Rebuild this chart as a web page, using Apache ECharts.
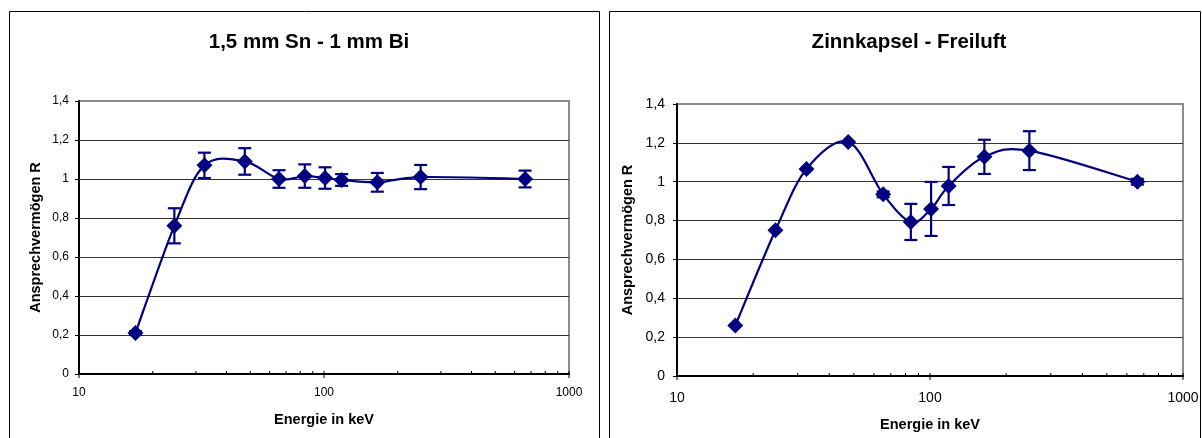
<!DOCTYPE html>
<html>
<head>
<meta charset="utf-8">
<script src="https://cdn.jsdelivr.net/npm/echarts@6/dist/echarts.min.js"></script>
<style>
html,body{margin:0;padding:0;background:#fff;}
#c{width:1202px;height:438px;}
</style>
</head>
<body>
<div id="c"></div>
<script>
// ---- data ----
const titles = ['1,5 mm Sn - 1 mm Bi', 'Zinnkapsel - Freiluft'];
const xTitle = 'Energie in keV';
const yTitle = 'Ansprechvermögen R';
const energyL = [17, 24.5, 32.5, 47.5, 65.5, 83.5, 101, 118, 165, 248, 662];
const valueL  = [0.21, 0.76, 1.07, 1.09, 1.00, 1.015, 1.005, 0.995, 0.983, 1.01, 1.00];
const errL    = [0.01, 0.09, 0.065, 0.068, 0.045, 0.06, 0.055, 0.03, 0.048, 0.062, 0.043];
const energyR = [17, 24.5, 32.5, 47.5, 65.3, 84, 101, 118.5, 164, 247, 660];
const valueR  = [0.26, 0.75, 1.065, 1.205, 0.935, 0.793, 0.86, 0.978, 1.128, 1.16, 1.0];
const errR    = [0, 0, 0, 0, 0.015, 0.093, 0.139, 0.098, 0.088, 0.1, 0.015];
const xMajor = [10, 100, 1000];
const xMinor = [20, 30, 40, 50, 60, 70, 80, 90, 200, 300, 400, 500, 600, 700, 800, 900];

const NAVY = '#000080';
const FONT = 'Liberation Sans';
const chart = echarts.init(document.getElementById('c'));

function pts(e, v){ return e.map((x,i)=>[x, v[i]]); }
function errs(e, v, d){ return e.map((x,i)=>[x, v[i]-d[i], v[i]+d[i]]); }

// smoothed curve (Catmull-Rom style Bezier, like a spreadsheet "smoothed line")
function curveSeries(idx, data){
  const n = data.length;
  return {
    type:'custom', xAxisIndex:idx, yAxisIndex:idx, z:3, clip:false, silent:true,
    data:data,
    renderItem:function(params, api){
      const i = params.dataIndex;
      if (i >= n-1) return null;
      const c = k => api.coord(data[Math.max(0, Math.min(n-1, k))]);
      const p0 = c(i-1), p1 = c(i), p2 = c(i+1), p3 = c(i+2);
      const t = 1/6;
      return {type:'bezierCurve', shape:{
        x1:p1[0], y1:p1[1], x2:p2[0], y2:p2[1],
        cpx1:p1[0]+(p2[0]-p0[0])*t, cpy1:p1[1]+(p2[1]-p0[1])*t,
        cpx2:p2[0]-(p3[0]-p1[0])*t, cpy2:p2[1]-(p3[1]-p1[1])*t
      }, style:{stroke:NAVY, fill:null, lineWidth:2.2}};
    }
  };
}
function markerSeries(idx, data){
  return {
    type:'scatter', xAxisIndex:idx, yAxisIndex:idx, z:5, data:data,
    symbol:'diamond', symbolSize:[16,16], itemStyle:{color:NAVY, opacity:1}
  };
}
function errSeries(idx, data){
  return {
    type:'custom', xAxisIndex:idx, yAxisIndex:idx, z:4, clip:false, silent:true,
    data:data,
    renderItem:function(params, api){
      const x = api.value(0);
      const lo = api.coord([x, api.value(1)]);
      const hi = api.coord([x, api.value(2)]);
      const w = 6.5;
      const st = {stroke:NAVY, lineWidth:2.2};
      return {type:'group', children:[
        {type:'line', shape:{x1:lo[0],y1:lo[1],x2:hi[0],y2:hi[1]}, style:st},
        {type:'line', shape:{x1:lo[0]-w,y1:lo[1],x2:lo[0]+w,y2:lo[1]}, style:st},
        {type:'line', shape:{x1:hi[0]-w,y1:hi[1],x2:hi[0]+w,y2:hi[1]}, style:st}
      ]};
    }
  };
}
function tickSeries(idx, vals, up, down){
  return {
    type:'custom', xAxisIndex:idx, yAxisIndex:idx, z:6, clip:false, silent:true,
    data:vals.map(v=>[v,0]),
    renderItem:function(params, api){
      const p = api.coord([api.value(0), 0]);
      return {type:'line', shape:{x1:p[0],y1:p[1]-up,x2:p[0],y2:p[1]+down},
        style:{stroke:'#000', lineWidth:1}};
    }
  };
}

const gridCol = ['#333','#333','#333','#333','#333','#333','#333','#8c8c8c'];

function xAxis(idx, fs, gap, margin){
  return {
    type:'log', logBase:10, min:10, max:1000, gridIndex:idx,
    name:xTitle, nameLocation:'middle', nameGap:gap,
    nameTextStyle:{fontFamily:FONT, fontWeight:'bold', fontSize:14.5, color:'#000'},
    axisLine:{show:true, onZero:false, lineStyle:{color:'#000', width:2}},
    axisTick:{show:false},
    minorTick:{show:false},
    axisLabel:{fontFamily:FONT, fontSize:fs, color:'#000', margin:margin,
      formatter:function(v){ return String(Math.round(v)); }},
    splitLine:{show:false}
  };
}
function yAxis(idx, fs, gap, margin){
  return {
    type:'value', min:0, max:1.4, interval:0.2, gridIndex:idx,
    name:yTitle, nameLocation:'middle', nameGap:gap, nameRotate:90,
    nameTextStyle:{fontFamily:FONT, fontWeight:'bold', fontSize:14.5, color:'#000'},
    axisLine:{show:true, lineStyle:{color:'#000', width:2}},
    axisTick:{show:true, length:4, lineStyle:{color:'#000', width:1}},
    axisLabel:{fontFamily:FONT, fontSize:fs, color:'#000', margin:margin,
      formatter:function(v){ return String(Math.round(v*10)/10).replace('.', ','); }},
    splitLine:{show:true, lineStyle:{color:gridCol, width:1}}
  };
}

chart.setOption({
  animation:false,
  backgroundColor:'#fff',
  title:[
    {text:titles[0], left:304, top:27, textAlign:'center',
      textStyle:{fontFamily:FONT, fontWeight:'bold', fontSize:20.5, color:'#000'}},
    {text:titles[1], left:904, top:27, textAlign:'center',
      textStyle:{fontFamily:FONT, fontWeight:'bold', fontSize:20.5, color:'#000'}}
  ],
  graphic:[
    {type:'rect', shape:{x:9.5, y:11.5, width:590, height:440}, style:{fill:null, stroke:'#000', lineWidth:1}, silent:true},
    {type:'rect', shape:{x:609.5, y:11.5, width:591, height:440}, style:{fill:null, stroke:'#000', lineWidth:1}, silent:true}
  ],
  grid:[
    {left:79, top:101, width:490, height:273, show:true, borderColor:'#8c8c8c', borderWidth:2, backgroundColor:'#fff'},
    {left:677, top:104, width:506, height:272, show:true, borderColor:'#8c8c8c', borderWidth:2, backgroundColor:'#fff'}
  ],
  xAxis:[xAxis(0, 12, 38, 13), xAxis(1, 14, 41, 15)],
  yAxis:[yAxis(0, 12, 36, 10), yAxis(1, 14, 42, 12)],
  series:[
    curveSeries(0, pts(energyL, valueL)),
    errSeries(0, errs(energyL, valueL, errL)),
    markerSeries(0, pts(energyL, valueL)),
    curveSeries(1, pts(energyR, valueR)),
    errSeries(1, errs(energyR, valueR, errR)),
    markerSeries(1, pts(energyR, valueR)),
    tickSeries(0, xMajor, 3, 4), tickSeries(0, xMinor, 3, 0),
    tickSeries(1, xMajor, 3, 4), tickSeries(1, xMinor, 3, 0)
  ]
});
</script>
</body>
</html>
